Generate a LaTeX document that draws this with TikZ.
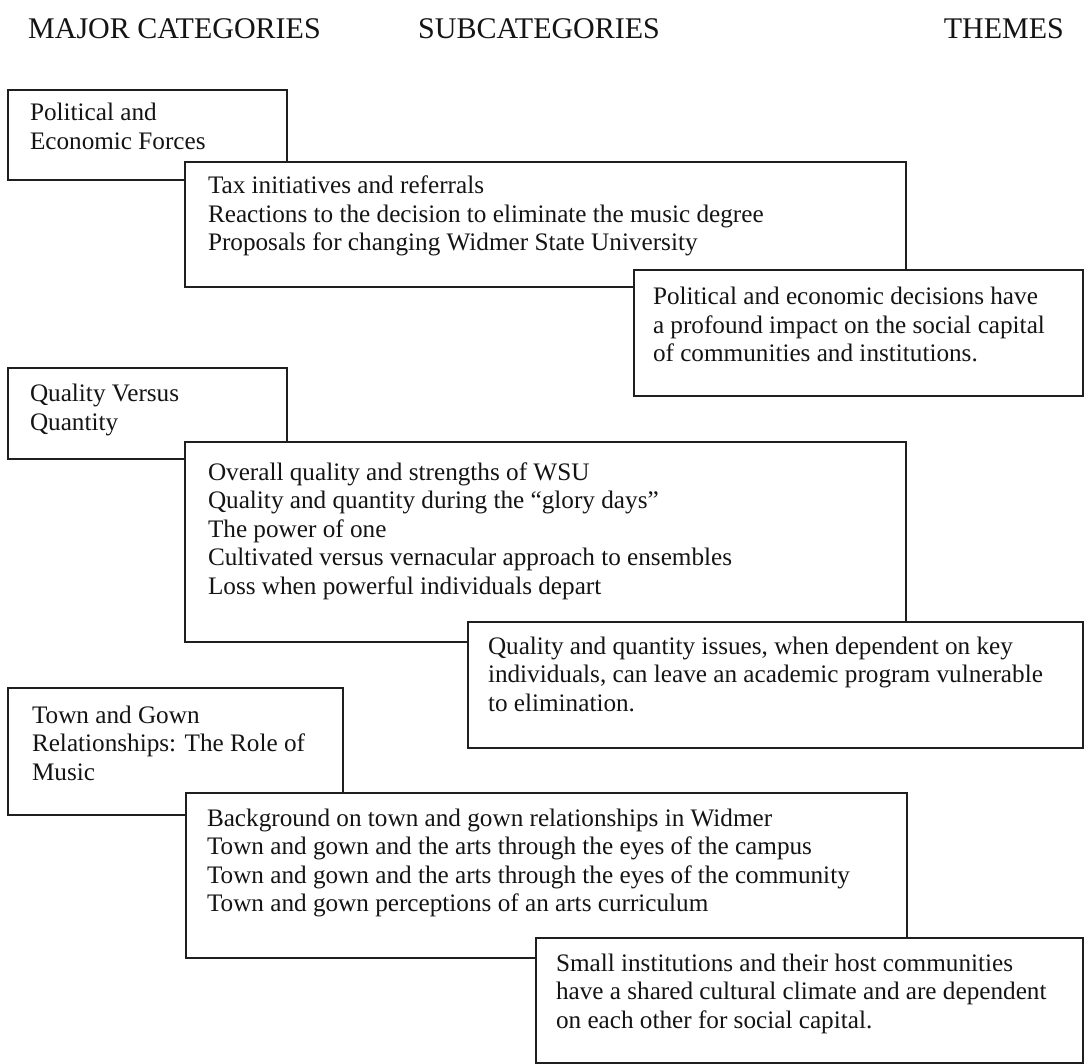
\documentclass[tikz,border=0pt]{standalone}
\usepackage{fontspec}
\setmainfont{Liberation Serif}
\newcommand{\bodyfont}{\fontsize{25.2}{28.5}\selectfont}
\newcommand{\headfont}{\fontsize{30}{34}\selectfont}
\newcommand{\lines}[1]{\begin{tabular}[t]{@{}l@{}}#1\end{tabular}}
\begin{document}
\begin{tikzpicture}[x=1pt,y=-1pt,
  box/.style={draw=black!88, line width=1.4pt, fill=white, inner sep=0pt, outer sep=0pt, anchor=north west},
  txt/.style={anchor=base west, inner sep=0pt, outer sep=0pt, font=\bodyfont, text=black!92},
  head/.style={anchor=base west, inner sep=0pt, font=\headfont, text=black!92}]
\useasboundingbox (0,0) rectangle (1084,1064);
\fill[white] (0,0) rectangle (1084,1064);
% headers
\node[head] (h1) at (28,39) {MAJOR CATEGORIES};
\node[head] (h2) at (418,39) {SUBCATEGORIES};
\node[head, anchor=base east] (h3) at (1064,39) {THEMES};
% group 1
\node[box, minimum width=279pt, minimum height=90pt] (a1) at (8,90) {};
\node[txt] (a1t) at (30,121) {\lines{Political and\\Economic Forces}};
\node[box, minimum width=721pt, minimum height=125pt] (b1) at (185,162) {};
\node[txt] (b1t) at (208,194) {\lines{Tax initiatives and referrals\\Reactions to the decision to eliminate the music degree\\Proposals for changing Widmer State University}};
\node[box, minimum width=449pt, minimum height=126pt] (c1) at (634,270) {};
\node[txt] (c1t) at (653,305) {\lines{Political and economic decisions have\\a profound impact on the social capital\\of communities and institutions.}};
% group 2
\node[box, minimum width=279pt, minimum height=91pt] (a2) at (8,368) {};
\node[txt] (a2t) at (30,402) {\lines{Quality Versus\\Quantity}};
\node[box, minimum width=721pt, minimum height=200pt] (b2) at (185,442) {};
\node[txt] (b2t) at (208,480) {\lines{Overall quality and strengths of WSU\\Quality and quantity during the ``glory days''\\The power of one\\Cultivated versus vernacular approach to ensembles\\Loss when powerful individuals depart}};
\node[box, minimum width=615pt, minimum height=126pt] (c2) at (468,622) {};
\node[txt] (c2t) at (488,654) {\lines{Quality and quantity issues, when dependent on key\\individuals, can leave an academic program vulnerable\\to elimination.}};
% group 3
\node[box, minimum width=335pt, minimum height=127pt] (a3) at (8,688) {};
\node[txt] (a3t) at (32,723) {\lines{Town and Gown\\Relationships: The Role of\\Music}};
\node[box, minimum width=721pt, minimum height=165pt] (b3) at (186,793) {};
\node[txt] (b3t) at (207,826) {\lines{Background on town and gown relationships in Widmer\\Town and gown and the arts through the eyes of the campus\\Town and gown and the arts through the eyes of the community\\Town and gown perceptions of an arts curriculum}};
\node[box, minimum width=547pt, minimum height=125pt] (c3) at (536,938) {};
\node[txt] (c3t) at (556,971) {\lines{Small institutions and their host communities\\have a shared cultural climate and are dependent\\on each other for social capital.}};
\end{tikzpicture}
\end{document}
